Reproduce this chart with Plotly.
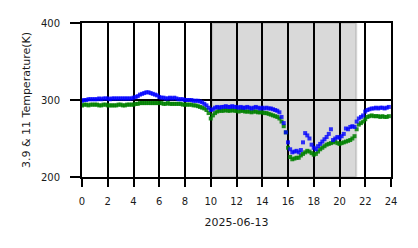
import numpy as np
import plotly.graph_objects as go

# hours at 10-minute steps
hours = [i / 6 for i in range(144)]

temp_39 = [
    299, 300, 300, 301, 301, 301,
    301, 301, 302, 301, 302, 302,
    302, 301, 302, 302, 302, 302,
    302, 302, 302, 302, 302, 302,
    303, 304, 305, 307, 308, 309,
    310, 310, 309, 308, 307, 306,
    304, 303, 303, 302, 302, 303,
    302, 303, 302, 301, 301, 301,
    300, 300, 300, 300, 299, 299,
    299, 298, 297, 295, 293, 290,
    287, 288, 290, 291, 290, 291,
    291, 292, 291, 291, 292, 291,
    291, 290, 291, 290, 290, 291,
    290, 289, 290, 291, 290, 289,
    290, 289, 290, 289, 289, 288,
    287, 286, 284, 278, 270, 258,
    245, 236, 232, 233, 234, 232,
    235, 245, 257, 254, 250, 242,
    238, 236, 240, 243, 246, 249,
    252, 256, 262, 248, 250, 252,
    251, 253, 256, 263, 262, 265,
    266, 265, 272, 276, 278, 280,
    285, 287, 288, 289, 289, 290,
    289, 290, 290, 289, 290, 291,
]

temp_11 = [
    293, 294, 294, 293, 294, 294,
    294, 294, 293, 293, 294, 294,
    293, 293, 293, 293, 293, 294,
    294, 293, 293, 294, 294, 294,
    294, 295, 295, 296, 296, 296,
    296, 296, 296, 296, 296, 296,
    296, 296, 295, 295, 296, 295,
    295, 295, 295, 295, 295, 294,
    294, 294, 294, 294, 293, 293,
    292, 291, 290, 289, 287, 283,
    276, 280, 283, 285, 286, 286,
    286, 287, 286, 286, 287, 286,
    286, 285, 286, 286, 285, 285,
    285, 284, 285, 285, 284, 284,
    284, 283, 283, 282, 281, 280,
    279, 278, 276, 272, 266, 258,
    238, 226, 223, 224, 225, 225,
    228, 230, 232, 234, 233, 231,
    229, 230, 233, 236, 238, 240,
    242, 243, 244, 245, 246, 244,
    243, 244, 245, 246, 247, 248,
    250, 253, 262, 268, 270, 272,
    275, 278, 279, 280, 279, 279,
    279, 278, 279, 278, 278, 279,
]

shade_start, shade_end = 10.1, 21.3
x_ticks = list(range(0, 25, 2))
y_ticks = [200, 300, 400]

fig = go.Figure()
fig.add_trace(go.Scatter(x=hours, y=temp_11, mode="markers",
                         marker=dict(symbol="square", size=4, color="rgba(0,128,0,0.85)", line=dict(width=0)),
                         showlegend=False, cliponaxis=True))
fig.add_trace(go.Scatter(x=hours, y=temp_39, mode="markers",
                         marker=dict(symbol="square", size=4, color="rgba(0,0,255,0.8)", line=dict(width=0)),
                         showlegend=False, cliponaxis=True))

fig.add_shape(type="rect", xref="x", yref="y", x0=shade_start, x1=shade_end, y0=200, y1=400,
              fillcolor="rgba(128,128,128,0.3)", line=dict(color="rgba(128,128,128,0.3)", width=2),
              layer="below")

title_font = dict(family="DejaVu Sans", size=11, color="#1a1a1a")
tick_font = dict(family="DejaVu Sans", size=10, color="#1a1a1a")
fig.update_layout(
    width=418, height=248,
    margin=dict(l=82, r=27, t=23, b=71),
    paper_bgcolor="white", plot_bgcolor="white",
    font=tick_font,
    xaxis=dict(range=[0, 24], tickvals=x_ticks, ticktext=[str(v) for v in x_ticks],
               showgrid=True, gridcolor="black", gridwidth=2, zeroline=False,
               ticks="outside", ticklen=8, tickwidth=2, tickcolor="black",
               tickfont=tick_font, ticklabelstandoff=6,
               title=dict(text="2025-06-13", font=title_font, standoff=12),
               showline=True, linecolor="black", linewidth=2, mirror=True),
    yaxis=dict(range=[200, 400], tickvals=y_ticks,
               showgrid=True, gridcolor="black", gridwidth=2, zeroline=False,
               ticks="outside", ticklen=10, tickwidth=2, tickcolor="black",
               tickfont=tick_font, ticklabelstandoff=8,
               title=dict(text="3.9 & 11 Temperature(K)", font=title_font, standoff=8),
               showline=True, linecolor="black", linewidth=2, mirror=True),
)

fig.write_html("out.html")
